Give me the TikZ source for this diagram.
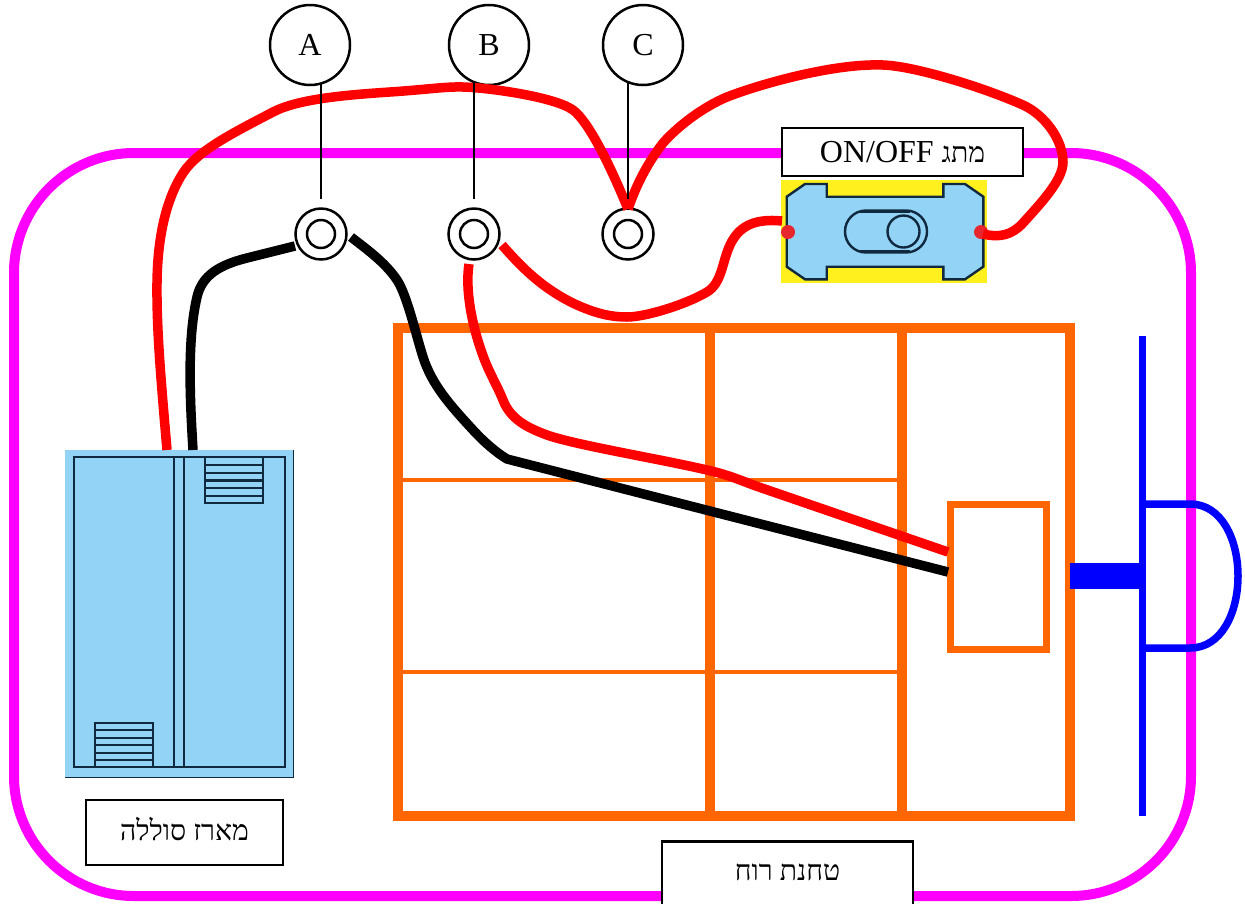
\documentclass[tikz,border=0pt]{standalone}
\usepackage{fontspec}
\setmainfont{Liberation Serif}
\newfontfamily\hebfont[Script=Hebrew]{Liberation Serif}
\TeXXeTstate=1
\definecolor{mag}{HTML}{FF00FF}
\definecolor{org}{HTML}{FF6600}
\definecolor{pan}{HTML}{93D3F5}
\definecolor{dk}{HTML}{10293F}
\definecolor{yel}{HTML}{FFF01E}
\definecolor{dotred}{HTML}{E8262E}
\newcommand{\hebsz}{\fontsize{28.3}{34}\hebfont}
\tikzset{
  lbl/.style={draw=black,line width=2.6pt,fill=white,inner sep=0pt,font=\fontsize{32}{36}\selectfont},
  letter/.style={circle,draw=black,line width=2.5pt,fill=white,minimum size=80pt,inner sep=0pt,font=\fontsize{32}{36}\selectfont},
  term/.style={circle,draw=black,line width=2.5pt,fill=white,minimum size=51pt,inner sep=0pt},
  terminner/.style={circle,draw=black,line width=2.5pt,minimum size=28pt,inner sep=0pt},
  redw/.style={draw=red,line width=9.5pt,line join=round},
  blkw/.style={draw=black,line width=9.5pt,line join=round},
  thinl/.style={line width=2.5pt,black},
  panl/.style={dk,line width=2.2pt},
  orgthick/.style={org,line width=10pt},
  orgthin/.style={org,line width=4pt},
  blu/.style={blue,line width=7.5pt}
}
\begin{document}
\begin{tikzpicture}[x=1pt,y=-1pt]
\useasboundingbox (0,0) rectangle (1245,903);
\clip (0,0) rectangle (1245,903);
% frame
\draw[mag,line width=10pt,rounded corners=120pt] (14,153) rectangle (1191,896);
% orange mill
\draw[orgthick] (398,328) rectangle (1070,816);
\draw[orgthick] (710,328) -- (710,816);
\draw[orgthick] (902,328) -- (902,816);
\draw[orgthin] (400,480) -- (900,480);
\draw[orgthin] (400,672) -- (900,672);
\node[draw=org,line width=7pt,fill=white,minimum width=96pt,minimum height=145pt,inner sep=0pt] (gen) at (998,576.5) {};
% blue rotor
\coordinate (shaftL) at (1070,576);
\coordinate (shaftR) at (1145,576);
\draw[blue,line width=26.5pt] (shaftL) -- (shaftR);
\draw[blu] (1142.4,336) -- (1142.4,816);
\draw[blu] (1142.4,504) -- (1190,504) .. controls (1222,504) and (1238,540) .. (1238,576) .. controls (1238,612) and (1222,648) .. (1190,648) -- (1142.4,648);
% solar panel
\node[fill=pan,draw=none,minimum width=228.5pt,minimum height=327pt,inner sep=0pt] (panel) at (179.3,613.5) {};
\draw[dk,line width=1pt] (65,777) -- (293.6,777) -- (293.6,450);
\draw[panl] (74,457) rectangle (285,767);
\draw[panl] (174,457) -- (174,767);
\draw[panl] (184,457) -- (184,767);
\draw[panl] (205,457) rectangle (263,503);
\foreach \yy in {465,472.7,480.5,488,495.7} \draw[panl] (205,\yy) -- (263,\yy);
\draw[panl] (95,722.7) rectangle (152.7,767);
\foreach \yy in {730,737.7,745,752.7,760} \draw[panl] (95,\yy) -- (152.7,\yy);
% switch
\node[fill=yel,draw=none,minimum width=206pt,minimum height=103pt,inner sep=0pt] (sw) at (884,231.5) {};
\draw[dk,line width=2.4pt,fill=pan,line join=miter]
 (786.7,196.7) -- (805,184) -- (826.7,184) -- (826.7,196.7) -- (943.3,196.7) -- (943.3,184) -- (965,184) -- (983.3,196.7)
 -- (983.3,266.7) -- (965,279.3) -- (943.3,279.3) -- (943.3,266.7) -- (826.7,266.7) -- (826.7,279.3) -- (805,279.3) -- (786.7,266.7) -- cycle;
\draw[dk,line width=2.4pt,rounded corners=20.9pt] (845,210.5) rectangle (927,252.5);
\draw[dk,line width=2.5pt] (860,212) -- (910,212);
\draw[dk,line width=2.5pt] (860,251) -- (910,251);
\draw[dk,line width=2.4pt] (903.5,231.5) circle (16pt);
\node[circle,fill=dotred,minimum size=14pt,inner sep=0pt] (swL) at (788,232) {};
\node[circle,fill=dotred,minimum size=14pt,inner sep=0pt] (swR) at (981,232) {};
% labels
\node[lbl,minimum width=241pt,minimum height=48pt] (lsw) at (902.5,152) {\raisebox{-6pt}{\beginR{\hebsz מתג} \beginL ON/OFF\endL\endR}};
\node[lbl,minimum width=197pt,minimum height=65pt] (lpan) at (184.5,832.5) {\raisebox{8pt}{\hebsz\beginR מארז סוללה\endR}};
\node[lbl,minimum width=251pt,minimum height=76pt,anchor=north] (lmill) at (787.5,840) {\raisebox{14pt}{\hebsz\beginR טחנת רוח\endR}};
% terminals
\node[term] (tA) at (321,234) {};
\node[terminner] (tAi) at (321,234) {};
\node[term] (tB) at (474,234) {};
\node[terminner] (tBi) at (474,234) {};
\node[term] (tC) at (628,234) {};
\node[terminner] (tCi) at (628,234) {};
% letter circles
\node[letter] (A) at (310,45) {A};
\node[letter] (B) at (489,45) {B};
\node[letter] (C) at (643,45) {C};
% wire end points
\coordinate (pR) at (167,450);
\coordinate (pB) at (193,450);
\coordinate (cTip) at (628,209);
\coordinate (aL) at (295,246);
\coordinate (aR) at (351,237);
\coordinate (bD) at (469,264);
\coordinate (bR) at (502,245);
\coordinate (gR) at (948,552);
\coordinate (gB) at (948,572);
\coordinate (swLw) at (782,221);
\coordinate (swRw) at (983,234);
% wires
\draw[redw] (pR) .. controls (161,380) and (156.5,330) .. (157,283)
  .. controls (157.5,240) and (165,201) .. (183,173)
  .. controls (198,150) and (235,132) .. (273,112)
  .. controls (298,99) and (345,95) .. (390,92)
  .. controls (430,89.3) and (445,86.5) .. (463,87)
  .. controls (490,87.8) and (555,97) .. (573,110)
  .. controls (587,120) and (608,160) .. (cTip);
\draw[redw] (cTip) .. controls (638,180) and (650,160) .. (663,143)
  .. controls (678,126) and (703,107) .. (727,97)
  .. controls (752,87) and (830,63) .. (883,65)
  .. controls (915,66) and (985,88) .. (1023,105)
  .. controls (1045,115) and (1063,140) .. (1063,162)
  .. controls (1063,180) and (1041,203) .. (1023,223)
  .. controls (1012,235) and (1000,238) .. (swRw);
\draw[redw] (bR) .. controls (518,263) and (540,288) .. (577,305)
  .. controls (595,313) and (610,317) .. (627,317)
  .. controls (645,317) and (685,305) .. (707,292)
  .. controls (722,283) and (722,262) .. (730,245)
  .. controls (738,228) and (752,218) .. (swLw);
\draw[redw] (bD) .. controls (465,290) and (472,325) .. (482,353)
  .. controls (489,373) and (497,385) .. (503,400)
  .. controls (510,418) and (525,427) .. (547,435)
  .. controls (575,445) and (660,459) .. (707,470)
  .. controls (730,475) and (745,482.3) .. (760,487.4) -- (gR);
\draw[blkw] (pB) .. controls (190,400) and (187,340) .. (197,297)
  .. controls (202,275) and (220,264.75) .. (247,258) -- (aL);
\draw[blkw] (aR) .. controls (365,248) and (385,262) .. (397,280)
  .. controls (407,295) and (416,335) .. (423,357)
  .. controls (432,385) and (450,405) .. (473,430)
  .. controls (485,443) and (497,453) .. (507,459) -- (gB);
% stems
\coordinate (aS) at (321,83); \coordinate (aE) at (321,199);
\coordinate (bS) at (474,83); \coordinate (bE) at (474,199);
\coordinate (cS) at (628,83); \coordinate (cE) at (628,199);
\draw[thinl] (aS) -- (aE);
\draw[thinl] (bS) -- (bE);
\draw[thinl] (cS) -- (cE);
\end{tikzpicture}
\end{document}
